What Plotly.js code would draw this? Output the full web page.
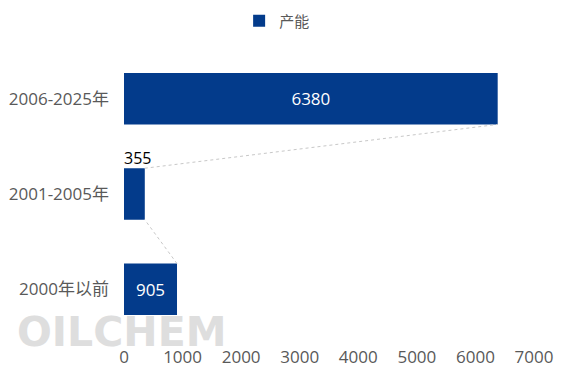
<!DOCTYPE html>
<html><head><meta charset="utf-8">
<script src="https://cdn.plot.ly/plotly-3.0.1.min.js"></script>
<style>html,body{margin:0;padding:0;background:#fff;}</style>
</head><body><div id="chart" style="width:568px;height:378px;"></div>
<script>
const categories = ["2000年以前", "2001-2005年", "2006-2025年"];
const capacity = [905, 355, 6380];
const seriesName = "产能";
const xTicks = [0, 1000, 2000, 3000, 4000, 5000, 6000, 7000];

const barWidth = 0.54;
const idx = categories.map((c, i) => i);
const barColor = "#033B8B";
const font = "Open Sans, Noto Sans CJK SC, sans-serif";

// connector lines between adjacent bar corners
const cx = [], cy = [];
for (let i = 0; i < capacity.length - 1; i++) {
  cx.push(capacity[i], capacity[i + 1], null);
  cy.push(i + barWidth / 2, i + 1 - barWidth / 2, null);
}

const traces = [
  {
    type: "bar", orientation: "h", name: seriesName,
    x: capacity, y: idx, width: barWidth,
    marker: {color: barColor},
    text: capacity.map(String),
    textposition: capacity.map(v => v > 600 ? "inside" : "none"),
    insidetextanchor: "middle",
    textfont: {color: "#ffffff", size: 17, family: font},
    hoverinfo: "x"
  },
  {
    type: "scatter", mode: "lines", x: cx, y: cy, showlegend: false,
    line: {color: "#c8c8c8", width: 1, dash: "dot"}, hoverinfo: "skip"
  },
  {
    type: "scatter", mode: "text", showlegend: false,
    x: capacity.map((v, i) => v > 600 ? null : 0),
    y: idx.map(i => i + barWidth / 2),
    text: capacity.map(v => v > 600 ? "" : String(v)),
    textposition: "top right",
    textfont: {color: "#000000", size: 16, family: font},
    hoverinfo: "skip", cliponaxis: false
  }
];

const layout = {
  width: 568, height: 378,
  margin: {l: 124, r: 34, t: 51, b: 41},
  paper_bgcolor: "#ffffff", plot_bgcolor: "#ffffff",
  font: {family: font, size: 17, color: "#595959"},
  showlegend: true,
  legend: {orientation: "h", xref: "container", yref: "container", x: 0.421, xanchor: "left",
           y: 1 - 21 / 378, yanchor: "middle", font: {size: 15, color: "#595959"}},
  xaxis: {range: [0, 7000], tickvals: xTicks, showgrid: false, zeroline: false,
          showline: false, ticks: "", ticklabelstandoff: 8,
          tickfont: {size: 17, color: "#595959"}, fixedrange: true},
  yaxis: {range: [-0.5, 2.5], tickvals: idx, ticktext: categories, showgrid: false,
          zeroline: false, showline: false, ticks: "", ticklabelstandoff: 14,
          tickfont: {size: 17, color: "#595959"}, fixedrange: true},
  annotations: [{
    text: "<b>OILCHEM</b>", xref: "paper", yref: "paper", x: -0.265, y: 0.0175,
    xanchor: "left", yanchor: "middle", showarrow: false,
    font: {family: "DejaVu Sans, sans-serif", size: 41, color: "#d6d6d6"}, opacity: 0.8
  }]
};

Plotly.newPlot("chart", traces, layout, {displayModeBar: false, staticPlot: true});
</script></body></html>
